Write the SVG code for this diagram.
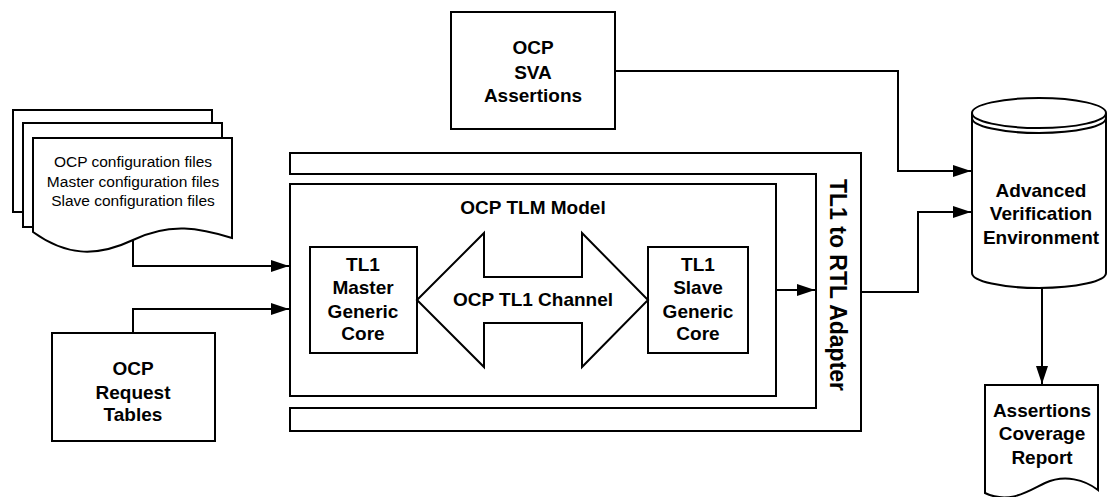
<svg xmlns="http://www.w3.org/2000/svg" width="1108" height="497" viewBox="0 0 1108 497">
<style>
.s{fill:#fff;stroke:#000;stroke-width:2}
.c{fill:none;stroke:#000;stroke-width:2}
.b{font-family:"Liberation Sans",Arial,sans-serif;font-weight:bold;font-size:19px;text-anchor:middle;fill:#000}
.n{font-family:"Liberation Sans",Arial,sans-serif;font-size:15.5px;text-anchor:middle;fill:#000}
</style>
<defs>
<marker id="ah" markerWidth="18" markerHeight="12" refX="18" refY="6" orient="auto" markerUnits="userSpaceOnUse">
<path d="M0,0 L18,6 L0,12 Z" fill="#000"/>
</marker>
</defs>
<rect width="1108" height="497" fill="#fff"/>

<g id="config-files">
<rect class="s" x="13" y="110" width="199" height="102"/>
<rect class="s" x="23" y="123" width="199" height="104"/>
<path class="s" d="M33,138 H232 V238 C200,228 170,222 133,240 C95,258 65,255 33,232 Z"/>
<text class="n" x="133" y="167">OCP configuration files</text>
<text class="n" x="133" y="187">Master configuration files</text>
<text class="n" x="133" y="206">Slave configuration files</text>
</g>

<g id="request-tables">
<rect class="s" x="52" y="333" width="163" height="108"/>
<text class="b" x="133" y="375">OCP</text>
<text class="b" x="133" y="399">Request</text>
<text class="b" x="133" y="421">Tables</text>
</g>

<g id="sva-assertions">
<rect class="s" x="451" y="12" width="164" height="117"/>
<text class="b" x="533" y="54">OCP</text>
<text class="b" x="533" y="79">SVA</text>
<text class="b" x="533" y="102">Assertions</text>
</g>

<g id="adapter">
<path class="s" d="M290,153 H861 V431 H290 V408 H816 V174 H290 Z"/>
<text class="b" style="font-size:23px" transform="translate(830,285) rotate(90)">TL1 to RTL Adapter</text>
</g>

<g id="tlm-model">
<rect class="s" x="290" y="184" width="486" height="212"/>
<text class="b" x="533" y="214">OCP TLM Model</text>
</g>

<g id="master-core">
<rect class="s" x="310" y="247" width="107" height="106"/>
<text class="b" x="363" y="271">TL1</text>
<text class="b" x="363" y="294">Master</text>
<text class="b" x="363" y="318">Generic</text>
<text class="b" x="363" y="340">Core</text>
</g>

<g id="slave-core">
<rect class="s" x="648" y="247" width="100" height="106"/>
<text class="b" x="698" y="271">TL1</text>
<text class="b" x="698" y="294">Slave</text>
<text class="b" x="698" y="318">Generic</text>
<text class="b" x="698" y="340">Core</text>
</g>

<g id="tl1-channel">
<path class="s" d="M417,300 L484,233 V277 H582 V233 L648,300 L582,367 V323 H484 V367 Z"/>
<text class="b" x="533" y="306">OCP TL1 Channel</text>
</g>

<g id="verification-env">
<path class="s" d="M972,113 V273 A67,15 0 0 0 1106,273 V113"/>
<ellipse class="s" cx="1039" cy="113" rx="67" ry="15"/>
<path class="c" d="M972,118 A67,15 0 0 0 1106,118"/>
<text class="b" x="1041" y="197">Advanced</text>
<text class="b" x="1041" y="220">Verification</text>
<text class="b" x="1041" y="244">Environment</text>
</g>

<g id="coverage-report">
<path class="s" d="M985,385 H1098 V490 C1085,480 1065,474 1045,483 C1030,490 1010,505 985,493 Z"/>
<text class="b" x="1042" y="417">Assertions</text>
<text class="b" x="1042" y="440">Coverage</text>
<text class="b" x="1042" y="464">Report</text>
</g>

<g id="connectors">
<path class="c" d="M133,240 V266 H289" marker-end="url(#ah)"/>
<path class="c" d="M133,333 V309 H289" marker-end="url(#ah)"/>
<path class="c" d="M776,290 H815" marker-end="url(#ah)"/>
<path class="c" d="M861,292 H918 V212 H971" marker-end="url(#ah)"/>
<path class="c" d="M615,71 H898 V171 H971" marker-end="url(#ah)"/>
<path class="c" d="M1042,288 V384" marker-end="url(#ah)"/>
</g>
</svg>
